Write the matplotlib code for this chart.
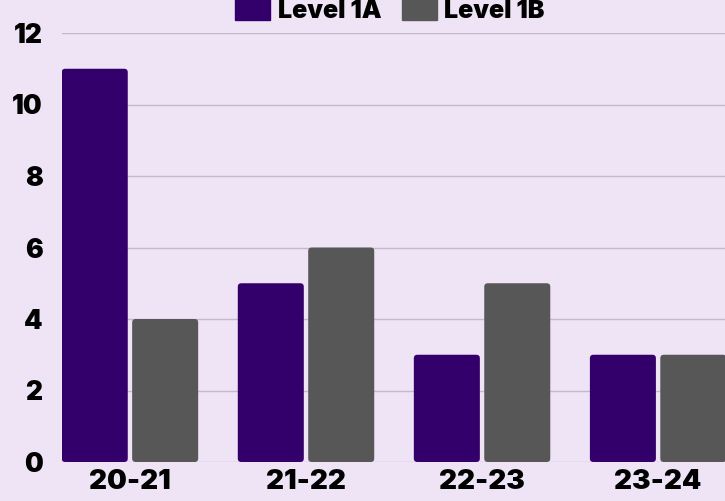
import matplotlib
matplotlib.use("Agg")
import matplotlib.pyplot as plt
from matplotlib.patches import FancyBboxPatch, Patch
import numpy as np

years = ["20-21", "21-22", "22-23", "23-24"]
level_1a = [11, 5, 3, 3]
level_1b = [4, 6, 5, 3]
yticks = [0, 2, 4, 6, 8, 10, 12]

bg = "#efe4f5"
purple = "#33006b"
grey = "#575757"

plt.rcParams["font.family"] = ["Inter", "DejaVu Sans"]

fig = plt.figure(figsize=(7.25, 5.01), dpi=100, facecolor=bg)
ax = fig.add_axes([62/725, 39/501, 1 - 62/725, 429/501])
ax.set_facecolor(bg)

x = np.arange(len(years))
w = 0.375
bars = [ax.bar(x - 0.2, level_1a, w, color=purple),
        ax.bar(x + 0.2, level_1b, w, color=grey)]

# swap plain rectangles for slightly rounded ones
for cont in bars:
    for r in cont.patches:
        fb = FancyBboxPatch((r.get_x(), r.get_y()), r.get_width(), r.get_height(),
                            boxstyle="round,pad=0,rounding_size=0.02",
                            mutation_aspect=4.9, facecolor=r.get_facecolor(),
                            edgecolor="none", zorder=3)
        r.set_visible(False)
        ax.add_patch(fb)

ax.set_xlim(-0.386, 3.38)
ax.set_ylim(0, 12)
ax.set_yticks(yticks)
ax.set_xticks(x)
ax.set_xticklabels(years)
ax.grid(axis="y", color="#c4b8cc", linewidth=1, zorder=0)
ax.tick_params(axis="y", length=0, pad=14, labelsize=19)
ax.tick_params(axis="x", length=0, pad=5, labelsize=20)
for lab in ax.get_xticklabels() + ax.get_yticklabels():
    lab.set_fontweight("black")
for s in ax.spines.values():
    s.set_visible(False)

handles = [Patch(color=purple, label="Level 1A"), Patch(color=grey, label="Level 1B")]
fig.legend(handles=handles, loc="center", bbox_to_anchor=(390/725, 1 - 11/501), ncol=2,
           frameon=False, prop={"weight": "black", "size": 18}, handlelength=1.4,
           handleheight=0.95, columnspacing=0.8, handletextpad=0.3,
           borderaxespad=0, borderpad=0)

fig.savefig("out.png", dpi=100, facecolor=bg)
